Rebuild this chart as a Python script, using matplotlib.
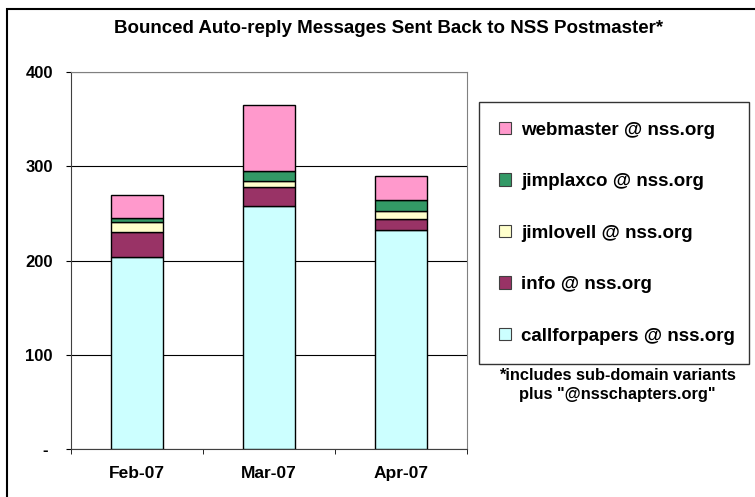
#!/usr/bin/env python3

import numpy
import matplotlib
matplotlib.use("Agg")
import matplotlib.pyplot as pyplot
from matplotlib.patches import Rectangle

FIG_SIZE = (7.55, 4.97)
DPI = 100

months = ["Feb-07", "Mar-07", "Apr-07"]
callforpapers = [204, 258, 232]
info = [26, 20, 12]
jimlovell = [11, 6, 8]
jimplaxco = [4, 11, 12]
webmaster = [24, 70, 26]

seriesNames = ["callforpapers @ nss.org", "info @ nss.org", "jimlovell @ nss.org",
               "jimplaxco @ nss.org", "webmaster @ nss.org"]
seriesValues = [callforpapers, info, jimlovell, jimplaxco, webmaster]
seriesColors = ["#CCFFFF", "#993366", "#FFFFCC", "#339966", "#FF99CC"]

yTicks = [0, 100, 200, 300, 400]
yTickLabels = ["- ", "100", "200", "300", "400"]

pyplot.rcParams["font.family"] = ["Liberation Sans", "DejaVu Sans"]
pyplot.rcParams["font.weight"] = "bold"

figure = pyplot.figure(figsize=FIG_SIZE, dpi=DPI)
W, H = 755.0, 497.0

# chart-area border (only left/top visible in the picture)
figure.patches.append(Rectangle((7/W, -0.1), 1.2, 1 - 9/H + 0.1, transform=figure.transFigure,
                                fill=False, edgecolor="black", lw=1.5))

ax = figure.add_axes([71/W, 1 - 449/H, (467-71)/W, (449-72)/H])

x = numpy.arange(len(months))
bottom = numpy.zeros(len(months))
handles = []
for name, vals, color in zip(seriesNames, seriesValues, seriesColors):
    bars = ax.bar(x, vals, width=0.4, bottom=bottom, color=color, edgecolor="black",
                  lw=1.0, label=name, zorder=3)
    handles.append(bars)
    bottom = bottom + numpy.array(vals)

ax.set_xlim(-0.5, 2.5)
ax.set_ylim(0, 400)
ax.set_yticks(yTicks)
ax.set_yticklabels(yTickLabels)
ax.set_xticks(x)
ax.set_xticklabels(months)
ax.set_xticks([-0.5, 0.5, 1.5, 2.5], minor=True)
ax.tick_params(axis="x", which="major", length=0, pad=12.5, labelsize=12.5)
ax.tick_params(axis="x", which="minor", length=3.6, direction="out", color="black")
ax.tick_params(axis="y", length=3.6, direction="out", pad=9.4, labelsize=12)
ax.yaxis.grid(True, color="black", lw=0.8, zorder=0)

for side in ["top", "right"]:
    ax.spines[side].set_color("#808080")
for side in ["left", "bottom"]:
    ax.spines[side].set_color("#404040")

figure.text(389/W, 1 - 33.3/H, "Bounced Auto-reply Messages Sent Back to NSS Postmaster*",
            ha="center", va="baseline", fontsize=13.5, fontweight="bold")

legend = figure.legend(handles[::-1], seriesNames[::-1], loc="upper left",
                       bbox_to_anchor=(479/W, 1 - 101.7/H, (749-479)/W, 0),
                       mode="expand", borderaxespad=0, frameon=True, fancybox=False,
                       edgecolor="black", fontsize=13.5, labelspacing=1.84,
                       handlelength=0.64, handleheight=0.64, handletextpad=0.53,
                       borderpad=1.06)
legend.get_frame().set_linewidth(1.0)
for patch in legend.get_patches():
    patch.set_edgecolor("#404040")
    patch.set_linewidth(0.8)

figure.text(617/W, 1 - 375/H, "*includes sub-domain variants", ha="center", va="center",
            fontsize=11.8, fontweight="bold")
figure.text(617/W, 1 - 395/H, "plus \"@nsschapters.org\"", ha="center", va="center",
            fontsize=11.8, fontweight="bold")

figure.savefig("out.png", dpi=DPI)
